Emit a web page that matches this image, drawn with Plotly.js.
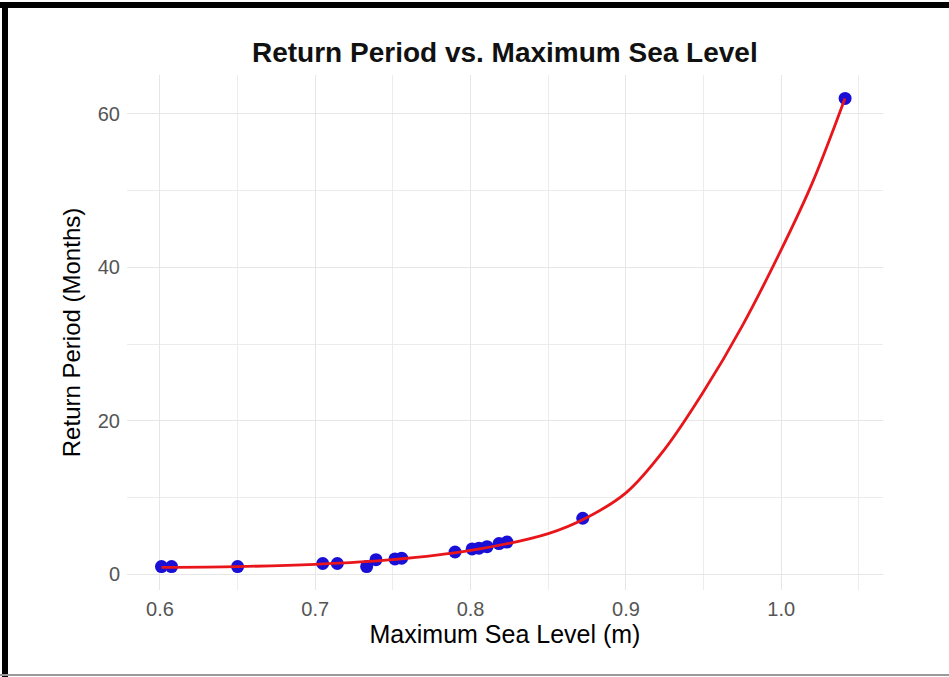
<!DOCTYPE html>
<html>
<head>
<meta charset="utf-8">
<script src="https://cdn.plot.ly/plotly-3.0.1.min.js"></script>
<style>
  html, body { margin: 0; padding: 0; background: #fff; }
  #wrap { position: relative; width: 949px; height: 677px; overflow: hidden; }
  #chart { position: absolute; left: 0; top: 0; width: 949px; height: 677px; }
  .frame { position: absolute; pointer-events: none; }
</style>
</head>
<body>
<div id="wrap">
  <div id="chart"></div>
  <div class="frame" style="left:0;top:2px;width:949px;height:6px;background:#000;"></div>
  <div class="frame" style="left:2px;top:2px;width:6px;height:675px;background:#000;"></div>
  <div class="frame" style="left:0;top:674px;width:949px;height:2px;background:#9a9a9a;"></div>
</div>
<script>
// Observed points
const seaLevel = [0.601, 0.6075, 0.650, 0.7048, 0.7142, 0.7331, 0.7391, 0.7513, 0.7556,
                  0.790, 0.801, 0.8054, 0.8106, 0.8183, 0.8234, 0.8722, 1.0411];
const returnPeriod = [1.0, 1.0, 1.0, 1.4, 1.4, 1.0, 1.9, 2.0, 2.1,
                      2.9, 3.3, 3.4, 3.6, 4.0, 4.2, 7.3, 62.0];

// Fitted curve
const curveX = [0.601, 0.65, 0.70, 0.75, 0.80, 0.85, 0.875, 0.90, 0.925, 0.95, 0.975, 1.0, 1.02, 1.041];
const curveY = [0.9, 1.0, 1.3, 1.9, 3.1, 5.3, 7.4, 10.6, 16.3, 23.8, 32.4, 42.3, 51.0, 62.0];

const xTicks = [0.6, 0.7, 0.8, 0.9, 1.0];
const xTickText = ["0.6", "0.7", "0.8", "0.9", "1.0"];
const yTicks = [0, 20, 40, 60];
const yTickText = ["0", "20", "40", "60"];

const FONT = "Liberation Sans, Arial, sans-serif";

const traces = [
  {
    x: seaLevel, y: returnPeriod, type: "scatter", mode: "markers",
    marker: { color: "#1a0fd6", size: 13, line: { width: 0 } },
    hoverinfo: "skip", showlegend: false
  },
  {
    x: curveX, y: curveY, type: "scatter", mode: "lines",
    line: { color: "#e8161b", width: 2.8, shape: "spline", smoothing: 1 },
    hoverinfo: "skip", showlegend: false
  }
];

const layout = {
  width: 949, height: 677,
  paper_bgcolor: "#ffffff", plot_bgcolor: "#ffffff",
  margin: { l: 127, r: 66, t: 75, b: 87 },
  font: { family: FONT, color: "#000" },
  title: {
    text: "<b>Return Period vs. Maximum Sea Level</b>",
    font: { family: FONT, size: 28, color: "#111" },
    x: 0.532, xanchor: "center", xref: "container",
    y: 1 - 52 / 677, yanchor: "middle", yref: "container"
  },
  xaxis: {
    range: [0.5788, 1.0655],
    tickmode: "array", tickvals: xTicks, ticktext: xTickText,
    ticks: "", ticklabelstandoff: 5,
    tickfont: { family: FONT, size: 20, color: "#555" },
    showgrid: true, gridcolor: "#e6e6e6", gridwidth: 1,
    minor: { tick0: 0.55, dtick: 0.1, showgrid: true, gridcolor: "#ececec", gridwidth: 1 },
    zeroline: false, showline: false,
    title: { text: "Maximum Sea Level (m)", font: { family: FONT, size: 25, color: "#000" }, standoff: 4 }
  },
  yaxis: {
    range: [-2.05, 65.05],
    tickmode: "array", tickvals: yTicks, ticktext: yTickText,
    ticks: "", ticklabelstandoff: 6,
    tickfont: { family: FONT, size: 20, color: "#555" },
    showgrid: true, gridcolor: "#e6e6e6", gridwidth: 1,
    minor: { tick0: 10, dtick: 20, showgrid: true, gridcolor: "#ececec", gridwidth: 1 },
    zeroline: false, showline: false,
    title: { text: "Return Period (Months)", font: { family: FONT, size: 24, color: "#000" }, standoff: 10 }
  }
};

Plotly.newPlot("chart", traces, layout, { displayModeBar: false, staticPlot: true });
</script>
</body>
</html>
